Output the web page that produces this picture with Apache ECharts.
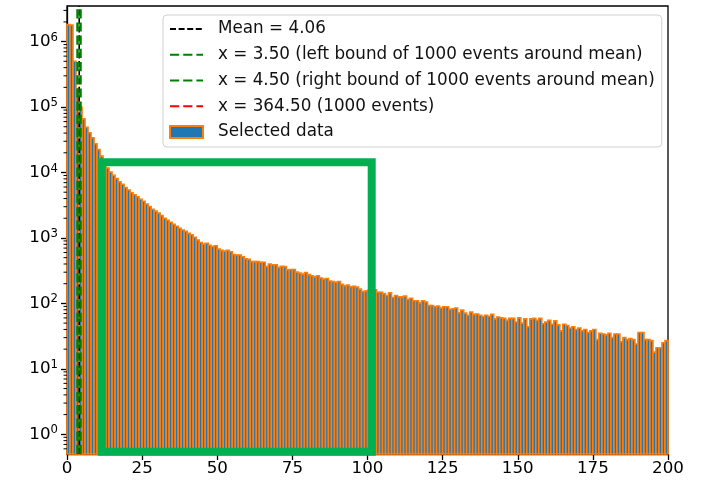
<!DOCTYPE html>
<html><head><meta charset="utf-8">
<script src="https://cdn.jsdelivr.net/npm/echarts@6/dist/echarts.min.js"></script>
<style>html,body{margin:0;padding:0;background:#fff}#c{width:703px;height:483px}</style>
</head><body><div id="c"></div>
<script>
// ---- data ----
const binStart = 0;
const counts = [
 1820000,1790000,500000,190000,100000,66000,49000,40500,34000,27500,
 22400,17800,14500,11700,10200,9100,8100,7200,6600,5900,
 5400,4900,4570,4270,3900,3630,3310,3020,2750,2570,
 2400,2190,2000,1860,1740,1620,1510,1410,1320,1260,
 1175,1120,1020,930,850,810,830,775,740,760,
 675,645,630,645,615,560,550,550,515,480,
 470,435,435,435,425,425,365,400,390,390,
 355,370,365,325,330,330,300,290,280,295,
 275,265,255,265,245,235,240,220,215,210,
 215,195,185,190,180,182,178,165,152,155,
 158,155,162,148,148,141,132,145,123,132,
 126,126,129,115,120,110,110,102,110,105,
 93,93,89,91,85,89,89,81,83,85,
 72,79,71,66,74,68,69,66,63,66,
 63,68,58,62,60,59,55,59,59,52,
 60,50,58,44,58,59,55,59,49,52,
 55,48,54,47,38,48,46,42,44,40,
 42,38,40,36,38,40,28,35,34,33,
 35,30,34,34,26,30,28,29,28,24,
 36,36,28,28,27,18,21,21,25,27
];
const meanValue = 4.06;
const leftBound = 3.5;
const rightBound = 4.5;
const thresholdX = 364.5;
const seriesNames = [
 'Mean = 4.06',
 'x = 3.50 (left bound of 1000 events around mean)',
 'x = 4.50 (right bound of 1000 events around mean)',
 'x = 364.50 (1000 events)',
 'Selected data'
];
const xTickValues = [0,25,50,75,100,125,150,175,200];
const yMajorTicks = [1,10,100,1000,10000,100000,1000000];
const yMinorTicks = [0.6,0.7,0.8,0.9,2,3,4,5,6,7,8,9,20,30,40,50,60,70,80,90,
 200,300,400,500,600,700,800,900,2000,3000,4000,5000,6000,7000,8000,9000,
 20000,30000,40000,50000,60000,70000,80000,90000,200000,300000,400000,500000,600000,700000,800000,900000,
 2000000,3000000];
const highlightBox = [11.6, 0.54, 101.4, 14300]; // x0, y0, x1, y1 in data units

// ---- chart ----
const X_MIN = 0, X_MAX = 200, Y_MIN = 0.5, Y_MAX = 3.5e6;
const FONT = 'DejaVu Sans';
const barData = counts.map((c, i) => [binStart + i, binStart + i + 1, c]);
const vline = x => [[x, Y_MIN], [x, Y_MAX]];
const hiddenSymbol = {opacity: 0};

const chart = echarts.init(document.getElementById('c'), null, {renderer: 'canvas'});
const lineSeries = (name, x, color, width, dash) => ({
  name, type: 'line', data: vline(x), symbol: 'none', z: 3,
  itemStyle: {color, opacity: 0},
  lineStyle: {color, width, type: dash}
});
chart.setOption({
  animation: false,
  textStyle: {fontFamily: FONT},
  grid: {left: 67, right: 35, top: 6, bottom: 29, show: true, borderColor: '#000', borderWidth: 1.3, backgroundColor: 'transparent'},
  xAxis: {
    type: 'value', min: X_MIN, max: X_MAX, interval: 25,
    axisLine: {show: true, lineStyle: {color: '#000', width: 1.3}},
    axisTick: {show: true, length: 6, lineStyle: {color: '#000', width: 1.3}, customValues: xTickValues},
    axisLabel: {color: '#000', fontSize: 16.7, fontFamily: FONT, margin: 6, customValues: xTickValues},
    splitLine: {show: false}
  },
  yAxis: {
    type: 'log', min: Y_MIN, max: Y_MAX, position: 'left',
    splitLine: {show: false},
    axisLine: {show: true, lineStyle: {color: '#000', width: 1.3}},
    axisTick: {show: true, length: 6, lineStyle: {color: '#000', width: 1.3}, customValues: yMajorTicks},
    axisLabel: {
      customValues: yMajorTicks, margin: 9, color: '#000',
      formatter: v => '{b|10}{s|' + Math.round(Math.log10(v)) + '}',
      rich: {
        b: {fontSize: 16.7, fontFamily: FONT, color: '#000'},
        s: {fontSize: 11.7, fontFamily: FONT, color: '#000', padding: [0, 0, 8, 0]}
      }
    }
  },
  legend: {
    data: [
      {name: seriesNames[0], itemStyle: hiddenSymbol},
      {name: seriesNames[1], itemStyle: hiddenSymbol},
      {name: seriesNames[2], itemStyle: hiddenSymbol},
      {name: seriesNames[3], itemStyle: hiddenSymbol},
      {name: seriesNames[4], icon: 'rect'}
    ],
    orient: 'vertical', left: 163, top: 15,
    itemWidth: 33, itemHeight: 12, itemGap: 5.75,
    padding: [4, 7, 5, 6],
    backgroundColor: 'rgba(255,255,255,0.8)', borderColor: '#d0d0d0', borderWidth: 1, borderRadius: 4,
    textStyle: {fontSize: 16.8, lineHeight: 20, color: '#111', fontFamily: FONT, padding: [0, 0, 0, 10]},
    selectedMode: false
  },
  series: [
    {
      name: seriesNames[4], type: 'custom', data: barData,
      encode: {x: [0, 1], y: 2},
      itemStyle: {color: '#1f77b4', borderColor: '#ff7f0e', borderWidth: 1.5},
      renderItem: (params, api) => {
        const tl = api.coord([api.value(0), api.value(2)]);
        const br = api.coord([api.value(1), Y_MIN]);
        return {type: 'rect', shape: {x: tl[0], y: tl[1], width: br[0] - tl[0], height: br[1] - tl[1]},
          style: {fill: '#1f77b4', stroke: '#ff7f0e', lineWidth: 1.6}};
      },
      z: 1
    },
    lineSeries(seriesNames[0], meanValue, '#000000', 1.6, [6, 2.6]),
    lineSeries(seriesNames[1], leftBound, '#008000', 2.5, [9.2, 4]),
    lineSeries(seriesNames[2], rightBound, '#008000', 2.5, [9.2, 4]),
    lineSeries(seriesNames[3], thresholdX, '#ff0000', 2.5, [9.2, 4]),
    {
      name: 'minorTicks', type: 'custom', data: yMinorTicks.map(v => [X_MIN, v]), z: 5,
      encode: {x: 0, y: 1},
      renderItem: (params, api) => {
        const p = api.coord([api.value(0), api.value(1)]);
        return {type: 'line', shape: {x1: p[0] - 3.5, y1: p[1], x2: p[0], y2: p[1]},
          style: {stroke: '#000', lineWidth: 1}};
      }
    },
    {
      name: 'highlight', type: 'custom', data: [highlightBox], z: 4,
      encode: {x: [0, 2], y: [1, 3]},
      renderItem: (params, api) => {
        const a = api.coord([api.value(0), api.value(3)]);
        const b = api.coord([api.value(2), api.value(1)]);
        return {type: 'rect', shape: {x: a[0], y: a[1], width: b[0] - a[0], height: b[1] - a[1]},
          style: {fill: 'none', stroke: '#00b050', lineWidth: 8}};
      }
    }
  ]
});
</script></body></html>
